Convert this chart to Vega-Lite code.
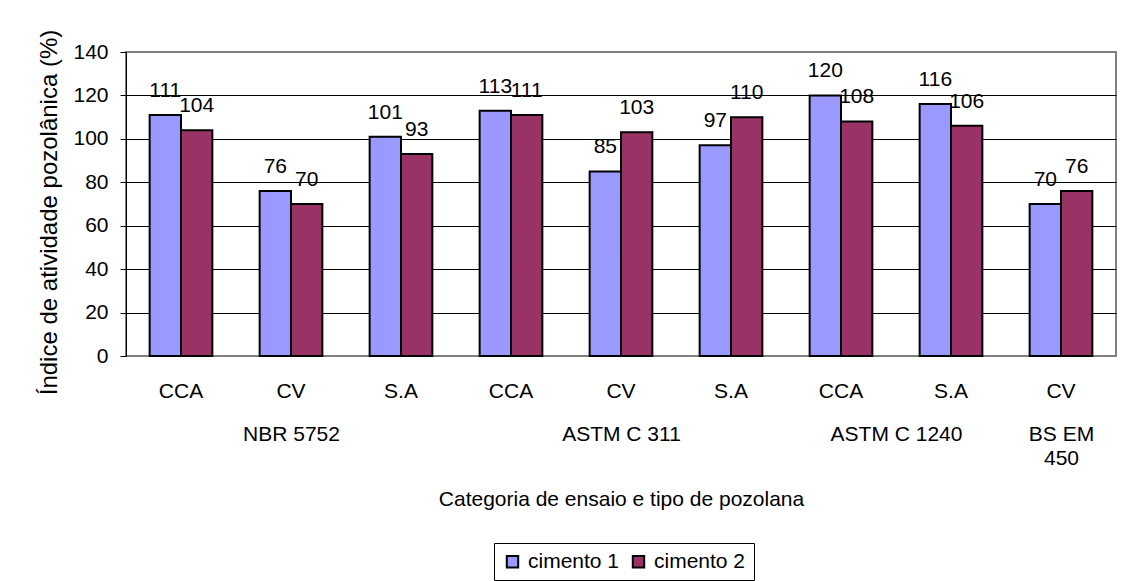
{
  "$schema": "https://vega.github.io/schema/vega-lite/v6.json",
  "width": 990,
  "height": 304,
  "autosize": {"type": "none"},
  "padding": {"left": 126, "top": 52, "right": 24, "bottom": 225},
  "background": "#ffffff",
  "config": {
    "font": "Liberation Sans",
    "view": {"stroke": "#808080", "strokeWidth": 2},
    "axis": {
      "labelFont": "Liberation Sans",
      "titleFont": "Liberation Sans",
      "labelFontSize": 21,
      "titleFontSize": 21,
      "labelColor": "#000000",
      "titleColor": "#000000",
      "titleFontWeight": "normal"
    }
  },
  "data": {
    "values": [
      {"idx": 1, "key": "1|CCA", "ensaio": "NBR 5752", "tipo": "CCA", "cimento": "cimento 1", "valor": 111},
      {"idx": 1, "key": "1|CCA", "ensaio": "NBR 5752", "tipo": "CCA", "cimento": "cimento 2", "valor": 104},
      {"idx": 2, "key": "2|CV", "ensaio": "NBR 5752", "tipo": "CV", "cimento": "cimento 1", "valor": 76},
      {"idx": 2, "key": "2|CV", "ensaio": "NBR 5752", "tipo": "CV", "cimento": "cimento 2", "valor": 70},
      {"idx": 3, "key": "3|S.A", "ensaio": "NBR 5752", "tipo": "S.A", "cimento": "cimento 1", "valor": 101},
      {"idx": 3, "key": "3|S.A", "ensaio": "NBR 5752", "tipo": "S.A", "cimento": "cimento 2", "valor": 93},
      {"idx": 4, "key": "4|CCA", "ensaio": "ASTM C 311", "tipo": "CCA", "cimento": "cimento 1", "valor": 113},
      {"idx": 4, "key": "4|CCA", "ensaio": "ASTM C 311", "tipo": "CCA", "cimento": "cimento 2", "valor": 111},
      {"idx": 5, "key": "5|CV", "ensaio": "ASTM C 311", "tipo": "CV", "cimento": "cimento 1", "valor": 85},
      {"idx": 5, "key": "5|CV", "ensaio": "ASTM C 311", "tipo": "CV", "cimento": "cimento 2", "valor": 103},
      {"idx": 6, "key": "6|S.A", "ensaio": "ASTM C 311", "tipo": "S.A", "cimento": "cimento 1", "valor": 97},
      {"idx": 6, "key": "6|S.A", "ensaio": "ASTM C 311", "tipo": "S.A", "cimento": "cimento 2", "valor": 110},
      {"idx": 7, "key": "7|CCA", "ensaio": "ASTM C 1240", "tipo": "CCA", "cimento": "cimento 1", "valor": 120},
      {"idx": 7, "key": "7|CCA", "ensaio": "ASTM C 1240", "tipo": "CCA", "cimento": "cimento 2", "valor": 108},
      {"idx": 8, "key": "8|S.A", "ensaio": "ASTM C 1240", "tipo": "S.A", "cimento": "cimento 1", "valor": 116},
      {"idx": 8, "key": "8|S.A", "ensaio": "ASTM C 1240", "tipo": "S.A", "cimento": "cimento 2", "valor": 106},
      {"idx": 9, "key": "9|CV", "ensaio": "BS EM 450", "tipo": "CV", "cimento": "cimento 1", "valor": 70},
      {"idx": 9, "key": "9|CV", "ensaio": "BS EM 450", "tipo": "CV", "cimento": "cimento 2", "valor": 76}
    ]
  },
  "layer": [
    {
      "layer": [
        {
          "mark": {"type": "bar", "stroke": "#000000", "strokeWidth": 2, "opacity": 1},
          "encoding": {
            "x": {
              "field": "key",
              "type": "nominal",
              "sort": "ascending",
              "scale": {"paddingInner": 0.43, "paddingOuter": 0.215},
              "axis": {
                "title": null,
                "labelExpr": "split(datum.label, '|')[1]",
                "labelAngle": 0,
                "ticks": false,
                "domain": false,
                "grid": false,
                "labelPadding": 24
              }
            },
            "xOffset": {"field": "cimento", "type": "nominal"},
            "y": {
              "field": "valor",
              "type": "quantitative",
              "scale": {"domain": [0, 140], "nice": false},
              "axis": {
                "title": "Índice de atividade pozolânica (%)",
                "titleFontSize": 24,
                "titleY": 160,
                "values": [0, 20, 40, 60, 80, 100, 120, 140],
                "tickSize": 6,
                "tickColor": "#000000",
                "domainColor": "#000000",
                "labelPadding": 12,
                "titlePadding": 11,
                "gridColor": "#000000",
                "gridWidth": 1,
                "gridOpacity": {"condition": {"test": "datum.value == 0 || datum.value == 140", "value": 0}, "value": 1}
              }
            },
            "color": {
              "field": "cimento",
              "type": "nominal",
              "scale": {"range": ["#9999FF", "#993366"]},
              "legend": {
                "title": null,
                "orient": "none",
                "legendX": 368,
                "legendY": 491,
                "direction": "horizontal",
                "strokeColor": "#000000",
                "fillColor": "#ffffff",
                "padding": 8,
                "symbolType": "square",
                "symbolSize": 130,
                "symbolStrokeColor": "#000000",
                "symbolStrokeWidth": 2,
                "symbolOpacity": 1,
                "labelFontSize": 21,
                "labelFont": "Liberation Sans",
                "labelColor": "#000000",
                "labelOffset": 5,
                "columnPadding": 8
              }
            }
          }
        },
        {
          "mark": {"type": "text", "baseline": "alphabetic", "dy": -18, "fontSize": 21, "font": "Liberation Sans", "color": "#000000"},
          "encoding": {
            "x": {"field": "key", "type": "nominal", "sort": "ascending"},
            "xOffset": {"field": "cimento", "type": "nominal"},
            "y": {"field": "valor", "type": "quantitative"},
            "text": {"field": "valor", "type": "quantitative"}
          }
        }
      ]
    },
    {
      "mark": {"type": "point", "opacity": 0},
      "encoding": {
        "x": {
          "field": "idx",
          "type": "quantitative",
          "scale": {"domain": [0.5, 9.5], "nice": false, "zero": false},
          "axis": {
            "orient": "bottom",
            "values": [2, 5, 7.5, 9],
            "labelExpr": "datum.value == 2 ? 'NBR 5752' : datum.value == 5 ? 'ASTM C 311' : datum.value == 7.5 ? 'ASTM C 1240' : ['BS EM', '450']",
            "domain": false,
            "ticks": false,
            "grid": false,
            "labelPadding": 67,
            "labelFlush": false,
            "labelOverlap": false,
            "labelBound": false,
            "labelLineHeight": 24,
            "title": "Categoria de ensaio e tipo de pozolana",
            "titlePadding": 20
          }
        },
        "y": {"field": "valor", "type": "quantitative"}
      }
    }
  ],
  "resolve": {"scale": {"x": "independent"}, "axis": {"x": "independent"}}
}
